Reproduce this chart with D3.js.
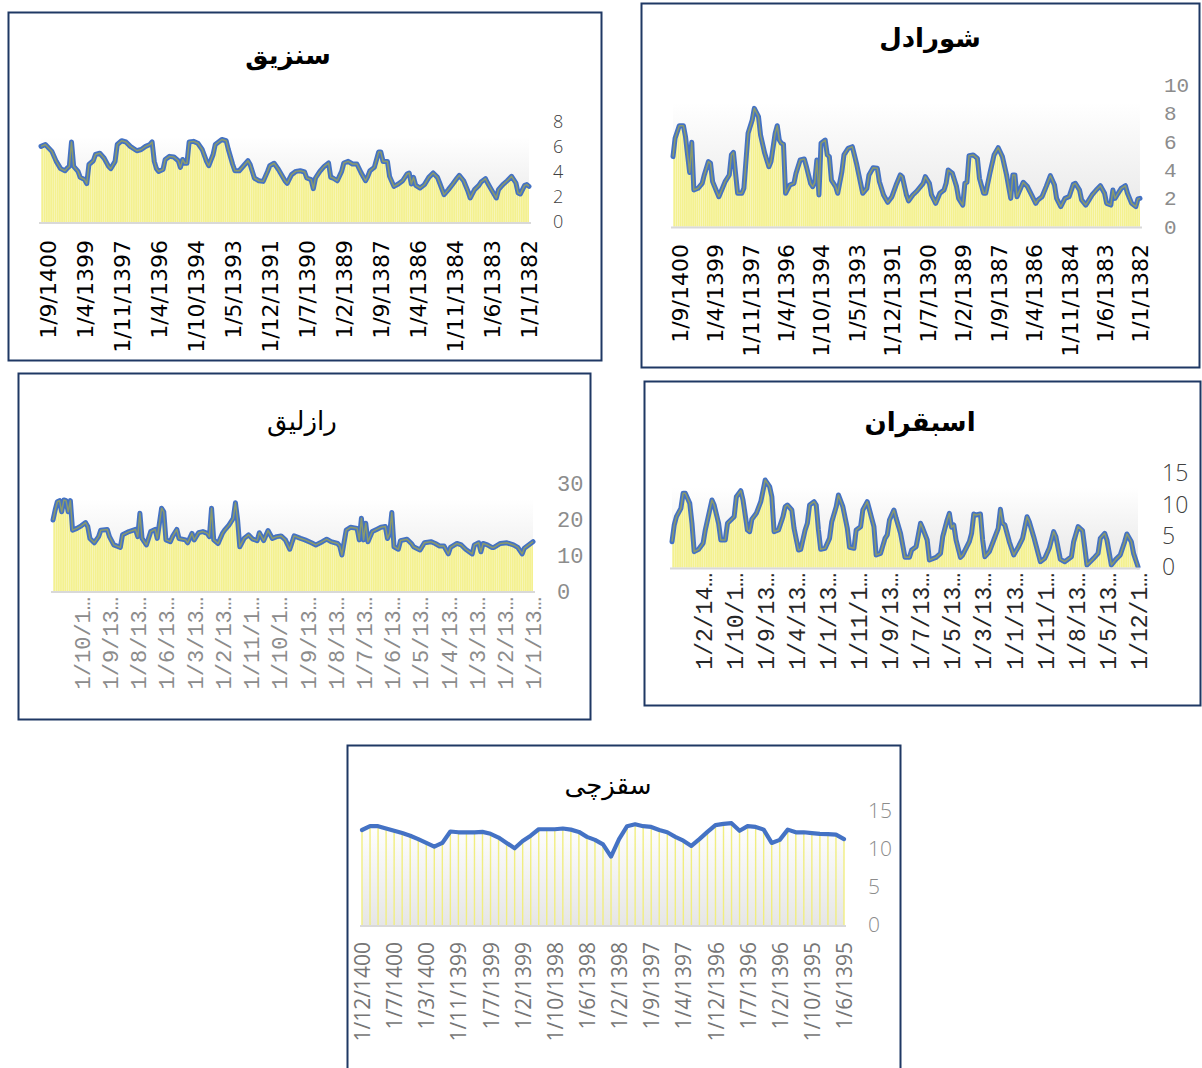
<!DOCTYPE html>
<html>
<head>
<meta charset="utf-8">
<script src="https://cdn.jsdelivr.net/npm/d3@7"></script>
<style>
  html, body { margin: 0; padding: 0; background: #fff; }
  svg { display: block; }
</style>
</head>
<body>
<svg id="chart" width="1202" height="1068"></svg>
<script>
// values: [category index from the left, value]
const sanzighPoints = [[0,6.05],[2,6.2],[5,5.65],[7,4.85],[9,4.27],[11,4.1],[12,4.3],[13,4.45],[14,6.4],[15,4.45],[17,4.05],[18,3.57],[20,3.4],[21,3.07],[22,4.6],[24,4.9],[25,5.4],[27,5.5],[29,5.1],[31,4.45],[32,4.27],[34,4.85],[35,6.2],[37,6.5],[39,6.4],[41,6.05],[44,5.7],[46,5.8],[48,6.05],[50,6.2],[51,6.4],[52,4.85],[53,4.27],[54,4.05],[56,4.2],[57,5.0],[59,5.25],[61,5.2],[63,4.9],[64,4.37],[65,5.0],[66,4.7],[67,4.7],[68,6.4],[70,6.45],[72,6.3],[74,5.8],[76,4.85],[77,4.5],[79,5.4],[80,6.2],[83,6.6],[85,6.5],[86,5.8],[88,4.6],[89,4.1],[91,4.1],[93,4.5],[95,4.9],[96,4.6],[98,3.5],[100,3.3],[102,3.25],[104,4.05],[105,4.5],[107,4.7],[109,4.2],[112,3.3],[113,3.1],[115,3.79],[117,4.05],[119,4.1],[121,4.0],[122,3.52],[124,3.39],[125,2.67],[126,3.52],[128,4.05],[130,4.45],[132,4.72],[133,3.57],[134,3.52],[136,3.3],[138,4.05],[139,4.72],[141,4.85],[143,4.64],[145,4.64],[147,3.92],[149,3.3],[150,3.65],[151,4.1],[153,4.37],[155,5.6],[156,5.6],[157,4.85],[159,4.85],[160,3.65],[162,2.85],[164,3.04],[166,3.3],[168,3.84],[169,3.92],[170,3.04],[171,3.57],[172,2.93],[174,2.72],[176,2.99],[178,3.57],[180,3.92],[182,3.57],[183,3.12],[185,2.19],[187,2.59],[189,3.04],[191,3.52],[192,3.73],[194,3.3],[196,2.45],[197,1.92],[199,2.59],[201,2.93],[202,3.2],[204,3.47],[205,3.12],[207,2.51],[209,1.92],[210,2.59],[212,2.99],[214,3.3],[216,3.65],[218,3.12],[219,2.32],[220,2.24],[222,2.93],[223,2.99],[224,2.85]];
const sanzighTicks = ["1/9/1400","1/4/1399","1/11/1397","1/4/1396","1/10/1394","1/5/1393","1/12/1391","1/7/1390","1/2/1389","1/9/1387","1/4/1386","1/11/1384","1/6/1383","1/1/1382"];

const shuradelPoints = [[0,4.92],[1,6.21],[3,7.1],[5,7.1],[6,6.33],[7,5.04],[8,3.81],[9,5.93],[10,2.57],[12,2.69],[14,3.04],[15,3.63],[17,4.57],[18,4.45],[19,3.16],[21,2.45],[22,2.1],[24,2.8],[25,3.16],[27,3.63],[28,5.04],[29,5.22],[30,3.75],[31,2.34],[33,2.34],[34,2.69],[36,6.56],[38,7.5],[39,8.32],[41,7.74],[42,6.44],[44,5.15],[46,4.21],[47,4.57],[49,6.56],[50,7.1],[51,6.09],[52,5.86],[53,5.79],[54,2.34],[56,2.92],[58,3.04],[59,3.75],[61,4.68],[63,4.75],[64,4.21],[66,3.04],[67,2.81],[68,3.11],[69,4.68],[70,2.22],[71,5.86],[73,6.09],[74,5.04],[75,4.92],[76,3.27],[78,2.81],[79,2.34],[81,3.86],[82,5.04],[84,5.5],[86,5.62],[87,5.04],[88,4.45],[90,3.04],[91,2.34],[93,2.69],[94,3.63],[96,4.14],[98,4.1],[99,3.16],[101,2.22],[103,1.7],[105,2.1],[107,2.92],[109,3.63],[110,3.5],[112,2.2],[113,1.8],[115,2.22],[117,2.5],[120,3.04],[121,3.51],[123,3.04],[124,2.22],[126,1.63],[128,2.34],[130,2.57],[131,3.04],[132,3.98],[134,3.75],[136,2.81],[137,1.98],[139,1.51],[140,3.04],[141,3.11],[142,4.99],[144,5.04],[146,4.8],[147,3.39],[149,2.34],[150,2.34],[152,3.75],[154,5.04],[156,5.55],[158,4.92],[160,3.63],[162,1.98],[163,3.63],[164,3.63],[165,2.1],[166,2.45],[168,3.11],[170,2.81],[172,2.22],[174,1.63],[175,1.87],[177,2.1],[179,2.81],[181,3.58],[183,2.92],[184,1.98],[186,1.4],[188,1.98],[190,2.1],[192,2.97],[193,3.04],[195,2.57],[196,1.87],[198,1.51],[200,1.98],[201,2.22],[203,2.57],[205,2.87],[207,2.34],[208,1.63],[210,1.51],[211,2.57],[212,1.98],[213,2.22],[215,2.69],[217,2.87],[218,2.34],[220,1.63],[222,1.4],[223,1.94],[224,1.98]];
const shuradelTicks = ["1/9/1400","1/4/1399","1/11/1397","1/4/1396","1/10/1394","1/5/1393","1/12/1391","1/7/1390","1/2/1389","1/9/1387","1/4/1386","1/11/1384","1/6/1383","1/1/1382"];

const razlighPoints = [[0,19.7],[1,22.5],[2,24.8],[3,25.1],[4,22.0],[5,25.3],[6,25.1],[7,22.0],[8,25.1],[9,16.9],[11,17.4],[13,18.1],[15,19.0],[16,17.9],[17,14.6],[19,13.4],[21,15.1],[22,16.9],[25,17.1],[26,15.1],[28,12.8],[31,12.1],[32,15.6],[35,16.5],[38,17.1],[39,15.1],[40,21.6],[41,14.6],[43,12.8],[45,16.5],[47,17.1],[48,14.6],[50,23.0],[51,22.0],[52,14.2],[54,13.7],[55,15.1],[57,17.1],[58,14.6],[61,14.2],[62,13.4],[64,16.0],[65,14.2],[67,16.2],[69,16.5],[71,16.0],[72,15.1],[73,23.0],[74,14.2],[76,13.2],[78,16.0],[79,16.9],[81,18.3],[83,20.2],[84,24.5],[85,19.7],[86,12.3],[88,14.6],[90,15.6],[92,14.4],[94,14.0],[95,16.2],[97,14.0],[99,16.8],[101,14.6],[103,15.1],[105,15.3],[107,14.2],[109,11.6],[111,15.3],[114,14.6],[116,14.2],[119,13.4],[121,12.8],[124,13.7],[126,14.4],[128,13.7],[131,13.2],[132,12.5],[133,10.0],[135,16.9],[137,17.7],[140,17.4],[141,14.2],[142,20.2],[143,14.2],[144,18.8],[145,13.7],[147,16.5],[149,17.1],[151,17.7],[153,17.9],[154,14.6],[155,16.0],[156,21.8],[157,12.3],[159,11.6],[160,14.0],[163,14.4],[165,13.2],[166,12.3],[169,11.4],[171,13.4],[174,13.7],[176,13.2],[178,12.5],[180,12.5],[182,10.3],[183,12.1],[186,13.2],[188,12.8],[190,11.6],[193,10.3],[194,12.8],[196,13.4],[197,10.9],[198,13.2],[200,12.8],[202,12.1],[203,12.1],[206,13.2],[209,13.4],[212,12.8],[214,12.1],[216,10.3],[217,11.9],[219,12.8],[221,13.7]];
const razlighTicks = ["1/10/1…","1/9/13…","1/8/13…","1/6/13…","1/3/13…","1/2/13…","1/11/1…","1/10/1…","1/9/13…","1/8/13…","1/7/13…","1/6/13…","1/5/13…","1/4/13…","1/3/13…","1/2/13…","1/1/13…"];

const esbaghranPoints = [[0,4.12],[1,6.78],[2,8.11],[4,9.44],[5,11.84],[6,11.84],[8,10.24],[9,7.05],[10,2.53],[12,2.9],[14,3.86],[15,5.98],[17,9.18],[18,10.77],[19,9.97],[21,7.05],[22,4.39],[24,4.39],[25,7.05],[28,8.11],[29,11.3],[31,12.26],[32,10.77],[34,5.98],[35,5.72],[36,7.69],[38,8.64],[40,10.5],[42,13.96],[44,12.9],[45,11.3],[46,5.72],[48,5.98],[50,8.11],[51,9.7],[52,9.97],[54,9.18],[55,6.25],[57,2.79],[58,2.9],[60,5.98],[61,7.05],[62,9.97],[64,10.5],[65,9.97],[66,5.98],[67,2.9],[69,3.06],[71,4.65],[72,7.31],[74,9.7],[75,11.57],[77,9.7],[79,6.25],[80,3.22],[82,3.06],[83,5.98],[85,6.52],[86,9.18],[88,10.5],[89,9.18],[91,6.52],[92,2.0],[94,2.26],[96,4.65],[97,5.19],[98,7.58],[100,9.18],[101,7.85],[103,5.45],[105,1.62],[107,1.62],[108,2.79],[110,3.32],[112,7.05],[113,6.25],[115,4.39],[116,1.2],[119,1.62],[121,2.26],[122,4.92],[124,7.58],[125,8.64],[126,6.41],[127,6.78],[128,4.39],[130,1.62],[131,2.0],[134,4.12],[135,5.45],[136,8.53],[137,8.37],[139,8.53],[140,4.39],[141,1.73],[143,2.53],[145,4.39],[147,6.25],[148,9.28],[149,7.05],[150,6.78],[152,4.12],[154,2.0],[156,3.22],[158,4.65],[160,8.11],[161,7.31],[163,4.92],[165,2.26],[166,0.93],[168,1.46],[170,3.06],[172,5.72],[173,4.92],[175,1.3],[177,0.93],[180,1.73],[181,4.12],[183,6.52],[185,5.88],[186,3.22],[187,0.4],[190,1.46],[192,2.26],[193,4.65],[195,5.45],[196,4.39],[198,0.4],[200,1.3],[202,2.0],[204,4.12],[205,5.35],[207,4.12],[208,2.26],[210,0.13]];
const esbaghranTicks = ["1/2/14…","1/10/1…","1/9/13…","1/4/13…","1/1/13…","1/11/1…","1/9/13…","1/7/13…","1/5/13…","1/3/13…","1/1/13…","1/11/1…","1/8/13…","1/5/13…","1/12/1…"];

// this one is sparse enough to read every category
const saghzchiValues = [12.5,13.0,13.0,12.7,12.4,12.1,11.75,11.3,10.8,10.3,10.8,12.3,12.2,12.2,12.2,12.25,12.0,11.5,10.8,10.1,11.05,11.75,12.6,12.6,12.6,12.7,12.55,12.25,11.6,11.2,10.6,9.0,11.3,13.0,13.25,13.0,12.9,12.5,12.2,11.6,11.1,10.4,11.3,12.25,13.15,13.3,13.4,12.4,13.0,12.9,12.55,10.8,11.2,12.55,12.2,12.2,12.1,12.0,11.95,11.9,11.3];
const saghzchiTicks = ["1/12/1400","1/7/1400","1/3/1400","1/11/1399","1/7/1399","1/2/1399","1/10/1398","1/6/1398","1/2/1398","1/9/1397","1/4/1397","1/12/1396","1/7/1396","1/2/1396","1/10/1395","1/6/1395"];

const lightSans = "'Open Sans', 'DejaVu Sans', sans-serif";
const mono = "'Liberation Mono', 'DejaVu Sans Mono', monospace";
const plainSans = "'DejaVu Sans', sans-serif";

const charts = [
  { title: "سنزیق", bold: true, tx: 288, ty: 55, box: [8.5, 12.5, 593, 348],
    points: sanzighPoints, count: 225, ticks: sanzighTicks, tickStart: 3, tickStep: 17,
    x0: 41, x1: 529, y0: 222, yMax: 8, yTop: 122, yTicks: [0, 2, 4, 6, 8], band: 6.8,
    xFont: plainSans, xSize: 22, xColor: "#000", xTop: 240,
    yFont: lightSans, ySize: 18, yColor: "#404040", yWeight: 300 },
  { title: "شورادل", bold: true, tx: 930, ty: 38, box: [641.5, 3.5, 558, 364],
    points: shuradelPoints, count: 225, ticks: shuradelTicks, tickStart: 3, tickStep: 17,
    x0: 673, x1: 1140, y0: 226.5, yMax: 10, yTop: 84.5, yTicks: [0, 2, 4, 6, 8, 10], band: 8.75,
    xFont: plainSans, xSize: 22, xColor: "#000", xTop: 244,
    yFont: mono, ySize: 21, yColor: "#8c8c8c", yWeight: 400 },
  { title: "رازلیق", bold: false, tx: 302, ty: 421, box: [18.5, 373.5, 572, 346],
    points: razlighPoints, count: 222, ticks: razlighTicks, tickStart: 13, tickStep: 13,
    x0: 53, x1: 533, y0: 591, yMax: 30, yTop: 483, yTicks: [0, 10, 20, 30], band: 25.6,
    xFont: mono, xSize: 22, xColor: "#8c8c8c", xTop: 597,
    yFont: mono, ySize: 22, yColor: "#8c8c8c", yWeight: 400 },
  { title: "اسبقران", bold: true, tx: 920, ty: 422, box: [644.5, 381.5, 556, 324],
    points: esbaghranPoints, count: 211, ticks: esbaghranTicks, tickStart: 14, tickStep: 14,
    x0: 672, x1: 1138, y0: 567.5, yMax: 15, yTop: 473.5, yTicks: [0, 5, 10, 15], band: 12.7,
    xFont: mono, xSize: 23, xColor: "#262626", xTop: 573,
    yFont: lightSans, ySize: 23, yColor: "#404040", yWeight: 300 },
  { title: "سقزچی", bold: false, tx: 608, ty: 785, box: [347.5, 745.5, 553, 340],
    values: saghzchiValues, ticks: saghzchiTicks, tickStart: 0, tickStep: 4,
    x0: 362, x1: 844, y0: 925, yMax: 15, yTop: 811, yTicks: [0, 5, 10, 15],
    xFont: lightSans, xSize: 21, xColor: "#767676", xTop: 942, xWeight: 400,
    yFont: lightSans, ySize: 21, yColor: "#8c8c8c", yWeight: 300 }
];

const svg = d3.select("#chart");
const defs = svg.append("defs");

const grad = defs.append("linearGradient").attr("id", "band")
  .attr("x1", 0).attr("y1", 0).attr("x2", 0).attr("y2", 1);
grad.append("stop").attr("offset", 0).attr("stop-color", "#ffffff");
grad.append("stop").attr("offset", 1).attr("stop-color", "#e6e6e6");

charts.forEach((c, ci) => {
  const g = svg.append("g");

  g.append("rect")
    .attr("x", c.box[0]).attr("y", c.box[1])
    .attr("width", c.box[2]).attr("height", c.box[3])
    .attr("fill", "#fff").attr("stroke", "#1f3864").attr("stroke-width", 2);

  g.append("text")
    .attr("x", c.tx).attr("y", c.ty)
    .attr("text-anchor", "middle").attr("dominant-baseline", "central")
    .attr("font-family", "'Times New Roman', 'DejaVu Sans', serif")
    .attr("font-size", 26).attr("font-weight", c.bold ? "bold" : "normal")
    .attr("fill", "#000")
    .text(c.title);

  const n = c.values ? c.values.length : c.count;
  const x = d3.scaleLinear().domain([0, n - 1]).range([c.x0, c.x1]);
  const y = d3.scaleLinear().domain([0, c.yMax]).range([c.y0, c.yTop]);

  if (c.points) {
    // gradient band behind the yellow area
    g.append("rect")
      .attr("x", c.x0).attr("y", y(c.band))
      .attr("width", c.x1 - c.x0).attr("height", c.y0 - y(c.band))
      .attr("fill", "url(#band)");

    const step = (c.x1 - c.x0) / (n - 1);
    const pat = defs.append("pattern").attr("id", "stripe" + ci)
      .attr("patternUnits", "userSpaceOnUse")
      .attr("x", c.x0).attr("y", 0).attr("width", step).attr("height", 20);
    pat.append("rect").attr("width", step).attr("height", 20).attr("fill", "#f4f190");
    pat.append("rect").attr("width", 0.7).attr("height", 20).attr("fill", "#f8f6bb");

    const area = d3.area().x(d => x(d[0])).y0(c.y0).y1(d => y(d[1]));
    g.append("path").datum(c.points).attr("d", area).attr("fill", "url(#stripe" + ci + ")");

    const line = d3.line().x(d => x(d[0])).y(d => y(d[1]));
    g.append("path").datum(c.points).attr("d", line)
      .attr("fill", "none").attr("stroke", "#4472c4").attr("stroke-width", 5)
      .attr("stroke-linejoin", "round").attr("stroke-linecap", "round");
    g.append("path").datum(c.points).attr("d", line)
      .attr("fill", "none").attr("stroke", "#8a9a6c").attr("stroke-width", 1.5)
      .attr("stroke-linejoin", "round");
  } else {
    const area = d3.area().x((d, i) => x(i)).y0(c.y0).y1(d => y(d));
    g.append("path").datum(c.values).attr("d", area).attr("fill", "url(#band)");
    g.selectAll(".drop").data(c.values).join("line")
      .attr("x1", (d, i) => x(i)).attr("x2", (d, i) => x(i))
      .attr("y1", d => y(d)).attr("y2", c.y0)
      .attr("stroke", "#f1ee80").attr("stroke-width", 1.4);
    g.append("path").datum(c.values)
      .attr("d", d3.line().x((d, i) => x(i)).y(d => y(d)))
      .attr("fill", "none").attr("stroke", "#4472c4").attr("stroke-width", 4.2)
      .attr("stroke-linejoin", "round").attr("stroke-linecap", "round");
  }

  // category baseline
  g.append("line")
    .attr("x1", c.x0 - 2).attr("x2", c.x1 + 2)
    .attr("y1", c.y0 + 1).attr("y2", c.y0 + 1)
    .attr("stroke", "#d9d9d9").attr("stroke-width", 2);

  // rotated category labels
  const tickIdx = c.ticks.map((t, i) => c.tickStart + i * c.tickStep);
  const xAxis = g.append("g")
    .attr("transform", `translate(0,${c.xTop})`)
    .call(d3.axisBottom(x).tickValues(tickIdx).tickSize(0)
      .tickFormat((d, i) => c.ticks[i]));
  xAxis.select(".domain").remove();
  xAxis.selectAll("text")
    .attr("x", 0).attr("y", 0).attr("dy", "0.36em")
    .attr("transform", "rotate(-90)")
    .attr("text-anchor", "end")
    .attr("font-family", c.xFont).attr("font-size", c.xSize)
    .attr("font-weight", c.xWeight || 400)
    .attr("fill", c.xColor);

  // value axis on the right
  const yAxis = g.append("g")
    .attr("transform", `translate(${c.x1 + 24},0)`)
    .call(d3.axisRight(y).tickValues(c.yTicks).tickSize(0).tickPadding(0));
  yAxis.select(".domain").remove();
  yAxis.selectAll("text")
    .attr("font-family", c.yFont).attr("font-size", c.ySize)
    .attr("font-weight", c.yWeight).attr("fill", c.yColor);
});
</script>
</body>
</html>
